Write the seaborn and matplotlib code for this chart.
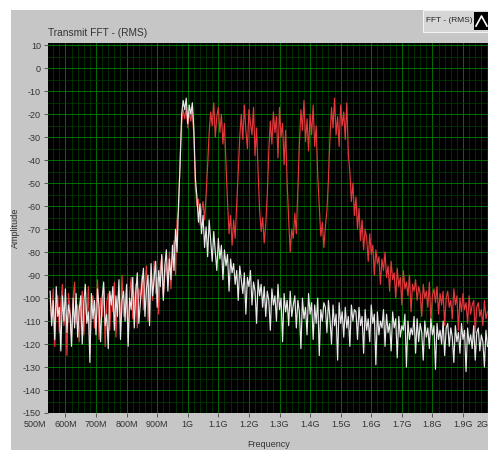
import numpy as np
import seaborn as sns
import matplotlib.pyplot as plt
from matplotlib.patches import Rectangle
from matplotlib.transforms import offset_copy
from matplotlib.ticker import MultipleLocator

# frequency grid of the traces, 550 MHz .. 1980 MHz in 5 MHz steps
f_start, f_step = 550e6, 5e6

white_trace = [
    -97, -112, -101, -118, -95, -108, -104, -123, -99, -110, -96, -115, -103, -107, -121, -100, -113, -98, -117, -105,
    -99, -120, -102, -94, -111, -106, -128, -98, -109, -101, -116, -96, -104, -119, -100, -93, -112, -107, -122, -97,
    -103, -95, -114, -99, -108, -92, -118, -101, -97, -110, -94, -121, -100, -105, -91, -113, -98, -89, -111, -102,
    -94, -87, -108, -96, -90, -112, -85, -99, -92, -84, -104, -88, -95, -81, -101, -86, -79, -97, -83, -92,
    -77, -88, -70, -80, -58, -42, -20, -14, -18, -13, -24, -16, -20, -15, -27, -48, -56, -67, -59, -72,
    -64, -78, -69, -82, -66, -75, -84, -71, -80, -88, -74, -83, -77, -92, -79, -86, -81, -97, -83, -89,
    -85, -94, -88, -101, -86, -92, -98, -89, -107, -91, -95, -88, -103, -93, -97, -111, -92, -99, -94, -104,
    -95, -108, -97, -101, -114, -96, -103, -99, -110, -94, -105, -100, -119, -98, -106, -101, -112, -97, -108, -103,
    -99, -113, -101, -106, -122, -100, -109, -104, -116, -98, -107, -102, -118, -103, -111, -100, -125, -105, -110, -102,
    -104, -115, -101, -109, -120, -103, -112, -107, -127, -102, -111, -106, -117, -104, -113, -108, -121, -103, -110, -105,
    -106, -118, -104, -112, -108, -124, -105, -114, -109, -119, -103, -111, -107, -129, -106, -116, -110, -113, -105, -121,
    -107, -115, -111, -123, -106, -113, -109, -126, -108, -117, -112, -114, -107, -130, -110, -118, -113, -116, -108, -124,
    -109, -119, -111, -115, -127, -110, -117, -113, -122, -109, -116, -112, -131, -111, -118, -114, -120, -110, -125, -113,
    -111, -121, -113, -117, -128, -112, -119, -115, -124, -111, -118, -114, -132, -113, -120, -116, -122, -112, -127, -115,
    -113, -123, -116, -119, -130, -114, -121,
]

red_trace = [
    -101, -109, -96, -121, -104, -99, -115, -102, -94, -112, -107, -125, -98, -105, -117, -100, -93, -111, -103, -119,
    -104, -97, -116, -101, -110, -95, -124, -103, -99, -113, -106, -92, -118, -100, -108, -96, -121, -102, -98, -114,
    -99, -106, -93, -117, -101, -97, -111, -90, -108, -102, -95, -119, -98, -91, -109, -103, -94, -113, -96, -100,
    -90, -105, -93, -86, -110, -95, -89, -101, -84, -98, -91, -107, -87, -82, -99, -90, -85, -94, -80, -96,
    -82, -75, -90, -66, -62, -38, -24, -18, -22, -17, -26, -19, -23, -18, -30, -52, -60, -57, -68, -62,
    -58, -66, -55, -42, -28, -19, -25, -15, -30, -21, -17, -28, -20, -33, -24, -42, -58, -72, -64, -77,
    -66, -74, -60, -45, -30, -20, -31, -16, -27, -35, -18, -24, -29, -17, -38, -26, -45, -62, -71, -65,
    -76, -68, -55, -36, -23, -33, -19, -28, -21, -39, -17, -30, -24, -42, -27, -50, -66, -80, -70, -74,
    -63, -72, -52, -33, -18, -27, -14, -32, -22, -36, -20, -29, -16, -34, -25, -47, -60, -73, -67, -78,
    -69, -62, -48, -30, -17, -26, -13, -29, -21, -34, -16, -25, -19, -31, -15, -37, -45, -58, -50, -64,
    -56, -70, -61, -75, -66, -79, -70, -74, -84, -72, -81, -77, -90, -79, -85, -82, -94, -83, -88, -80,
    -91, -86, -97, -84, -92, -89, -100, -87, -95, -91, -103, -88, -96, -93, -99, -90, -106, -94, -97, -92,
    -101, -95, -98, -108, -94, -100, -97, -104, -93, -110, -99, -96, -102, -95, -107, -98, -103, -97, -112, -100,
    -97, -104, -101, -109, -96, -103, -99, -114, -100, -106, -98, -105, -102, -111, -99, -107, -103, -101, -115, -104,
    -102, -108, -105, -112, -101, -109, -106,
]

x_ticks = [600e6, 700e6, 800e6, 900e6, 1.0e9, 1.1e9, 1.2e9, 1.3e9,
           1.4e9, 1.5e9, 1.6e9, 1.7e9, 1.8e9, 1.9e9]
x_labels = ['600M', '700M', '800M', '900M', '1G', '1.1G', '1.2G', '1.3G',
            '1.4G', '1.5G', '1.6G', '1.7G', '1.8G', '1.9G']
y_ticks = list(range(-150, 11, 10))

freq = f_start + f_step * np.arange(len(white_trace))

plt.rcParams['font.family'] = ['Liberation Sans', 'DejaVu Sans']
txt_col = '#333333'

fig = plt.figure(figsize=(4.89, 4.5), dpi=100)
fig.patch.set_facecolor('white')
# gray LabVIEW panel
fig.patches.append(Rectangle((11 / 489, 0), 1, 440 / 450, transform=fig.transFigure,
                             facecolor='#c6c6c6', edgecolor='none', zorder=-1))

ax = fig.add_axes([48 / 489, 37 / 450, 441 / 489, 370 / 450])
ax.set_facecolor('black')

sns.lineplot(x=freq, y=red_trace, ax=ax, color='#e4383c', lw=0.85,
             estimator=None, sort=False, zorder=3)
sns.lineplot(x=freq, y=white_trace, ax=ax, color='#e8e8e8', lw=0.85,
             estimator=None, sort=False, zorder=4)

ax.set_xlim(0.543e9, 1.985e9)
ax.set_ylim(-150, 11)
ax.set_xticks(x_ticks)
ax.set_xticklabels(x_labels)
ax.set_yticks(y_ticks)
ax.set_yticklabels([str(v) for v in y_ticks])
ax.xaxis.set_minor_locator(MultipleLocator(20e6))
ax.yaxis.set_minor_locator(MultipleLocator(5))

ax.grid(True, which='major', color='#008000', lw=0.6, zorder=1)
ax.grid(True, which='minor', color='#004000', lw=0.5, zorder=1)
ax.set_axisbelow(True)
ax.tick_params(which='major', length=3, width=0.6, color='#444444',
               labelsize=6.5, labelcolor=txt_col, pad=2)
ax.tick_params(which='minor', length=0)
for s in ax.spines.values():
    s.set_visible(False)

# end labels that LabVIEW prints just outside the plotting area
lab_tr = offset_copy(ax.get_xaxis_transform(), fig=fig, y=-5, units='points')
ax.text(0.5e9, 0, '500M', transform=lab_tr, ha='center', va='top',
        fontsize=6.5, color=txt_col, clip_on=False)
ax.text(1.985e9, 0, '2G', transform=lab_tr, ha='right', va='top',
        fontsize=6.5, color=txt_col, clip_on=False)

ax.set_xlabel('Frequency', fontsize=6.5, color=txt_col, labelpad=8)
ax.set_ylabel('Amplitude', fontsize=6.5, color=txt_col, labelpad=2)

fig.text(48 / 489, 1 - 33 / 450, 'Transmit FFT - (RMS)', fontsize=7.3, color=txt_col,
         ha='left', va='center')

# legend box
fig.patches.append(Rectangle((423 / 489, 1 - 32 / 450), 66 / 489, 22 / 450,
                             transform=fig.transFigure, facecolor='#d6d6d6',
                             edgecolor='#f2f2f2', lw=0.8))
fig.text(449 / 489, 1 - 21 / 450, 'FFT - (RMS)', fontsize=6, color='#222222',
         ha='center', va='center')
fig.patches.append(Rectangle((474 / 489, 1 - 30 / 450), 15 / 489, 18 / 450,
                             transform=fig.transFigure, facecolor='black',
                             edgecolor='none'))
fig.lines.append(plt.Line2D([476 / 489, 481.5 / 489, 487 / 489],
                            [1 - 26 / 450, 1 - 16 / 450, 1 - 26 / 450],
                            transform=fig.transFigure, color='white', lw=1.2))

fig.savefig('out.png', dpi=100)
